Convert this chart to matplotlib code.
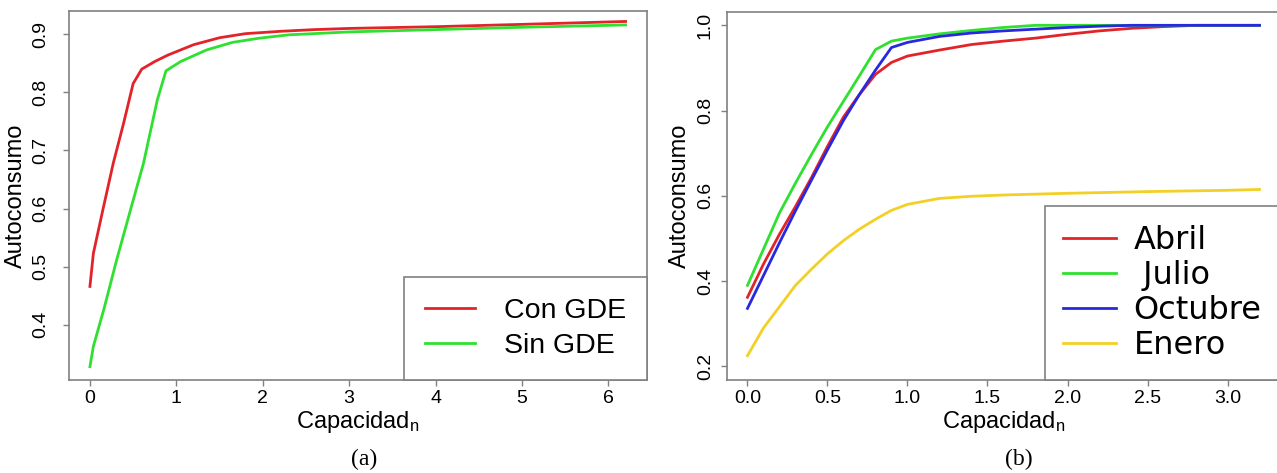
import matplotlib
matplotlib.use('Agg')
import matplotlib.pyplot as plt

plt.rcParams['font.family'] = 'Liberation Sans'
plt.rcParams['mathtext.default'] = 'regular'

# (a) autoconsumo con / sin GDE
cap_con = [0, 0.04, 0.15, 0.27, 0.39, 0.5, 0.6, 0.75, 0.9, 1.2, 1.5, 1.8, 2.2, 2.6, 3.0, 4.0, 5.0, 6.2]
auto_con = [0.466, 0.523, 0.598, 0.678, 0.747, 0.815, 0.840, 0.853, 0.864, 0.882, 0.894, 0.901,
            0.905, 0.908, 0.910, 0.913, 0.917, 0.922]
cap_sin = [0, 0.04, 0.16, 0.31, 0.47, 0.62, 0.78, 0.88, 1.05, 1.35, 1.65, 1.95, 2.3, 3.0, 4.0, 5.0, 6.2]
auto_sin = [0.328, 0.363, 0.426, 0.512, 0.598, 0.678, 0.787, 0.837, 0.853, 0.873, 0.886, 0.893,
            0.899, 0.904, 0.908, 0.912, 0.916]

# (b) autoconsumo por mes
cap_abril = [0, 0.1, 0.2, 0.3, 0.4, 0.5, 0.6, 0.7, 0.8, 0.9, 1.0, 1.2, 1.4, 1.6, 1.8, 2.0, 2.2, 2.4, 2.6, 2.8, 3.0, 3.2]
auto_abril = [0.362, 0.44, 0.51, 0.575, 0.643, 0.716, 0.785, 0.838, 0.885, 0.913, 0.928, 0.942,
              0.955, 0.963, 0.970, 0.979, 0.987, 0.993, 0.997, 1.0, 1.0, 1.0]
cap_julio = [0, 0.1, 0.2, 0.3, 0.4, 0.5, 0.6, 0.7, 0.8, 0.9, 1.0, 1.2, 1.4, 1.6, 1.8, 2.0, 2.5, 3.0, 3.2]
auto_julio = [0.390, 0.475, 0.560, 0.630, 0.697, 0.762, 0.822, 0.882, 0.943, 0.963, 0.970, 0.980,
              0.988, 0.995, 1.0, 1.0, 1.0, 1.0, 1.0]
cap_octubre = [0, 0.1, 0.2, 0.3, 0.4, 0.5, 0.6, 0.7, 0.8, 0.9, 1.0, 1.2, 1.4, 1.6, 1.8, 2.0, 2.2, 2.4, 3.0, 3.2]
auto_octubre = [0.336, 0.413, 0.49, 0.565, 0.637, 0.708, 0.777, 0.838, 0.895, 0.948, 0.960, 0.974,
                0.982, 0.987, 0.991, 0.995, 0.998, 1.0, 1.0, 1.0]
cap_enero = [0, 0.1, 0.2, 0.3, 0.4, 0.5, 0.6, 0.7, 0.8, 0.9, 1.0, 1.2, 1.4, 1.6, 1.8, 2.0, 2.5, 3.0, 3.2]
auto_enero = [0.225, 0.29, 0.34, 0.39, 0.428, 0.464, 0.495, 0.522, 0.545, 0.566, 0.580, 0.594,
              0.599, 0.602, 0.604, 0.606, 0.610, 0.613, 0.615]

RED = '#e2242a'
GREEN = '#30e030'
BLUE = '#2828e0'
GOLD = '#f2d026'
FRAME = '#808080'

W, H = 1277, 473
fig = plt.figure(figsize=(W / 100, H / 100), dpi=100)
ax1 = fig.add_axes([68.5 / W, 93 / H, 578.5 / W, 369 / H])
ax2 = fig.add_axes([727 / W, 93 / H, 553 / W, 368.3 / H])


def style_axes(ax, ypad):
    for sp in ax.spines.values():
        sp.set_color(FRAME)
        sp.set_linewidth(1.2)
    ax.tick_params(direction='out', length=4.5, width=1, color=FRAME, labelsize=14)
    ax.tick_params(axis='x', pad=3)
    ax.tick_params(axis='y', pad=ypad, labelrotation=90)
    for lbl in ax.get_yticklabels():
        lbl.set_va('center')
    ax.set_xlabel('Capacidad$_{n}$', fontsize=17, labelpad=1)
    ax.set_ylabel('Autoconsumo', fontsize=17, labelpad=4)


# panel (a)
ax1.plot(cap_con, auto_con, color=RED, lw=2, label='Con GDE')
ax1.plot(cap_sin, auto_sin, color=GREEN, lw=2, label='Sin GDE')
ax1.set_xlim(-0.248, 6.448)
ax1.set_ylim(0.305, 0.940)
ax1.set_xticks(range(7))
ax1.set_yticks([0.4, 0.5, 0.6, 0.7, 0.8, 0.9])
ax1.set_yticklabels(['0.4', '0.5', '0.6', '0.7', '0.8', '0.9'])
style_axes(ax1, 9)
leg1 = ax1.legend(loc='lower right', bbox_to_anchor=(1, 0), borderaxespad=0, fancybox=False,
                  edgecolor=FRAME, framealpha=1, prop={'family': 'Liberation Sans', 'size': 20.5},
                  handlelength=1.75, handletextpad=1.0, borderpad=0.75, labelspacing=0.3)
leg1.get_frame().set_linewidth(1.2)

# panel (b)
ax2.plot(cap_abril, auto_abril, color=RED, lw=2, label='Abril')
ax2.plot(cap_julio, auto_julio, color=GREEN, lw=2, label=' Julio')
ax2.plot(cap_octubre, auto_octubre, color=BLUE, lw=2, label='Octubre')
ax2.plot(cap_enero, auto_enero, color=GOLD, lw=2, label='Enero')
ax2.set_xlim(-0.128, 3.328)
ax2.set_ylim(0.168, 1.032)
ax2.set_xticks([0, 0.5, 1, 1.5, 2, 2.5, 3])
ax2.set_xticklabels(['0.0', '0.5', '1.0', '1.5', '2.0', '2.5', '3.0'])
ax2.set_yticks([0.2, 0.4, 0.6, 0.8, 1.0])
ax2.set_yticklabels(['0.2', '0.4', '0.6', '0.8', '1.0'])
style_axes(ax2, 5)
leg2 = ax2.legend(loc='lower right', bbox_to_anchor=(1, 0), borderaxespad=0, fancybox=False,
                  edgecolor=FRAME, framealpha=1, prop={'family': 'DejaVu Sans', 'size': 23},
                  handlelength=1.65, handletextpad=0.55, borderpad=0.58, labelspacing=0.13)
leg2.get_frame().set_linewidth(1.2)

fig.text(364 / W, 14 / H, '(a)', family='Liberation Serif', fontsize=17, ha='center', va='center')
fig.text(1019 / W, 14 / H, '(b)', family='Liberation Serif', fontsize=17, ha='center', va='center')

fig.savefig('out.png', dpi=100)
